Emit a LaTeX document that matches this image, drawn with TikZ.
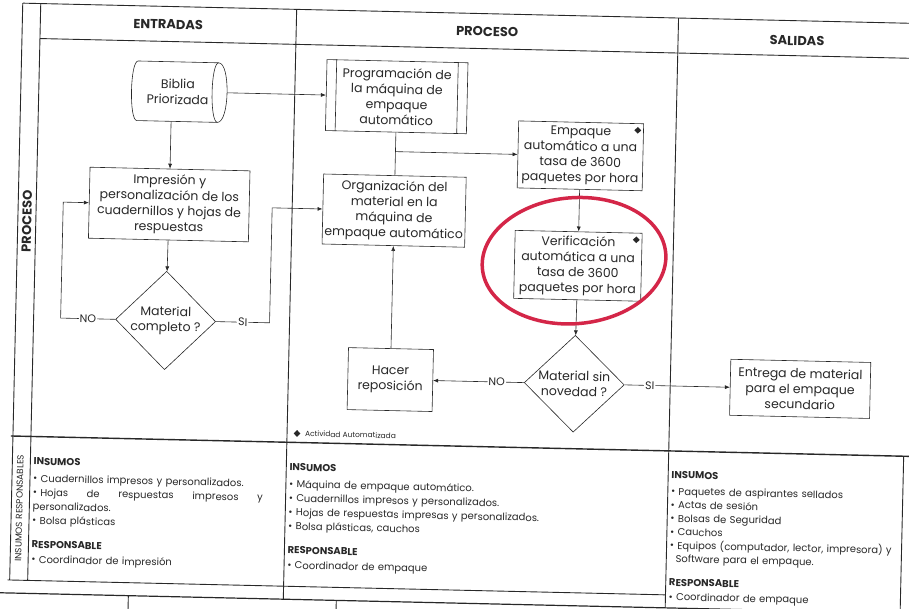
\documentclass[tikz,border=0pt]{standalone}
\usepackage{fontspec}
\setmainfont{Poppins}
\usetikzlibrary{shapes.geometric,arrows.meta,positioning}

\definecolor{ink}{RGB}{40,40,40}
\definecolor{pen}{RGB}{212,38,72}

\tikzset{
  nodefont/.style = {font=\fontsize{12.5}{15.5}\selectfont},
  box/.style = {draw, nodefont, align=center, inner sep=2pt},
  decision/.style = {draw, diamond, nodefont, align=center, inner sep=0pt},
  storage/.style = {nodefont, align=center, inner sep=2pt},
  flow/.style = {-{Latex[length=5pt,width=4pt]}},
  answer/.style = {fill=white, inner sep=1pt, font=\fontsize{11}{12}\selectfont},
  automark/.style = {diamond, fill=ink, inner sep=0pt, minimum size=7pt},
  head/.style = {font=\bfseries\fontsize{13}{15}\selectfont},
  cell/.style = {anchor=north west, align=left, inner sep=0pt, font=\fontsize{10}{14}\selectfont},
  gridline/.style = {line width=0.9pt},
}

\begin{document}
\begin{tikzpicture}[x=1pt, y=-1pt, color=ink, text=ink, line width=0.6pt]
  \useasboundingbox (0,0) rectangle (909,609);
  \clip (0,0) rectangle (909,609);
  \begin{scope}[rotate around={-1.3:(454,305)}, transform shape]

  \draw[gridline] (16,13) -- (930,13);
  \draw[gridline] (34,48) -- (930,48);
  \draw[line width=1.4pt] (14,446) -- (930,446);
  \draw[gridline] (14,590) -- (672,590);
  \draw[line width=1.2pt] (-20,603) -- (930,603);
  \draw[gridline] (16,13) -- (16,590);
  \draw[gridline] (34,13) -- (34,590);
  \draw[gridline] (290,13) -- (290,603);
  \draw[gridline] (672,13) -- (672,603);
  \draw[gridline] (907,446) -- (907,603);
  \draw[gridline] (135,603) -- (135,625);
  \draw[gridline] (343,603) -- (343,625);

  \node[head] (entradas) at (162,31) {ENTRADAS};
  \node[head] (proceso) at (481,31) {PROCESO};
  \node[head] (salidas) at (791,33) {SALIDAS};
  \node[head, rotate=90] (proclabel) at (25,231) {PROCESO};

  \node[storage, minimum width=80pt, minimum height=59pt] (biblia) at (173,98) {Biblia\\Priorizada};
  \draw (biblia.north west) -- (biblia.north east)
        .. controls ([xshift=12pt]biblia.north east) and ([xshift=12pt]biblia.south east) .. (biblia.south east)
        -- (biblia.south west)
        .. controls ([xshift=-8pt]biblia.south west) and ([xshift=-8pt]biblia.north west) .. cycle;
  \draw (biblia.north east) .. controls ([xshift=-8pt]biblia.north east) and ([xshift=-8pt]biblia.south east) .. (biblia.south east);

  \node[box, minimum width=141pt, minimum height=71pt] (prog) at (392,98) {Programación de\\la máquina de\\empaque\\automático};
  \draw ([xshift=10pt]prog.north west) -- ([xshift=10pt]prog.south west)
        ([xshift=-10pt]prog.north east) -- ([xshift=-10pt]prog.south east);
  \node[box, minimum width=160pt, minimum height=71pt] (impres) at (167,211) {Impresión y\\personalización de los\\cuadernillos y hojas de\\respuestas};
  \node[decision, minimum width=100pt, minimum height=77pt] (matcomp) at (166,327) {Material\\completo ?};
  \node[box, minimum width=139pt, minimum height=70pt] (organiz) at (392,212) {Organización del\\material en la\\máquina de\\empaque automático};
  \node[box, minimum width=125pt, minimum height=67pt] (empaque) at (577,153) {Empaque\\automático a una\\tasa de 3600\\paquetes por hora};
  \node[box, minimum width=127pt, minimum height=68pt] (verif) at (577,263) {Verificación\\automática a una\\tasa de 3600\\paquetes por hora};
  \node[decision, minimum width=100pt, minimum height=85pt] (matnov) at (576,381) {Material sin\\novedad ?};
  \node[box, minimum width=85pt, minimum height=62pt] (hacer) at (392,381) {Hacer\\reposición};
  \node[box, minimum width=140pt, minimum height=56pt] (entrega) at (802,381) {Entrega de material\\para el empaque\\secundario};

  \node[automark] (empmark) at ([shift={(-6pt,-7pt)}]empaque.north east) {};
  \node[automark] (verifmark) at ([shift={(-6pt,-7pt)}]verif.north east) {};

  \coordinate (noturn) at (61,327);
  \coordinate (siturn) at (270,327);
  \coordinate (split) at (prog.south |- empaque.west);

  \draw[flow] ([xshift=9pt]biblia.east) -- (prog.west);
  \draw[flow] (biblia.south -| impres) -- (impres);
  \draw[flow] (impres) -- (matcomp);
  \draw[flow] (matcomp.west) -- node[answer] {NO} (noturn) |- (impres.west);
  \draw[flow] (matcomp.east) -- node[answer] {SI} (siturn) |- (organiz.west);
  \draw (prog) -- (organiz);
  \draw[flow] (split) -- (empaque.west);
  \draw[flow] (empaque) -- (verif);
  \draw[flow] (verif) -- (matnov);
  \draw[flow] (matnov.west) -- node[answer, pos=0.3] {NO} (hacer.east);
  \draw[flow] (matnov.east) -- node[answer, pos=0.24] {SI} (entrega.west);
  \draw[flow] (hacer) -- (organiz);

  \draw[pen, line width=3.5pt, rotate around={6:(573,258)}] (573,258) ellipse [x radius=92, y radius=63];

  \node[automark] (legmark) at (300,437) {};
  \node[right=4pt of legmark, inner sep=0pt, font=\fontsize{7.5}{9}\selectfont] (legtext) {Actividad Automatizada};

  \node[rotate=90, font=\fontsize{9}{10}\selectfont] (insumlabel) at (24,518) {INSUMOS RESPONSABLES};

  \node[cell, text width=230pt] (ins1) at (37,467) {\textbf{INSUMOS}\\[3pt]
    • Cuadernillos impresos y personalizados.\\
    • Hojas \hfill de \hfill respuestas \hfill impresos \hfill y\\
    personalizados.\\
    • Bolsa plásticas\\[10pt]
    \textbf{RESPONSABLE}\\[1pt]
    • Coordinador de impresión};
  \node[cell, text width=370pt] (ins2) at (293,467) {\textbf{INSUMOS}\\[3pt]
    • Máquina de empaque automático.\\
    • Cuadernillos impresos y personalizados.\\
    • Hojas de respuestas impresas y personalizados.\\
    • Bolsa plásticas, cauchos\\[10pt]
    \textbf{RESPONSABLE}\\[1pt]
    • Coordinador de empaque};
  \node[cell, text width=232pt, font=\fontsize{10}{13.5}\selectfont] (ins3) at (675,466) {\textbf{INSUMOS}\\[3pt]
    • Paquetes de aspirantes sellados\\
    • Actas de sesión\\
    • Bolsas de Seguridad\\
    • Cauchos\\
    • Equipos (computador, lector, impresora) y\\
    \hspace*{0.6em}Software para el empaque.\\[10pt]
    \textbf{RESPONSABLE}\\[1pt]
    • Coordinador de empaque};

  \end{scope}
\end{tikzpicture}
\end{document}
